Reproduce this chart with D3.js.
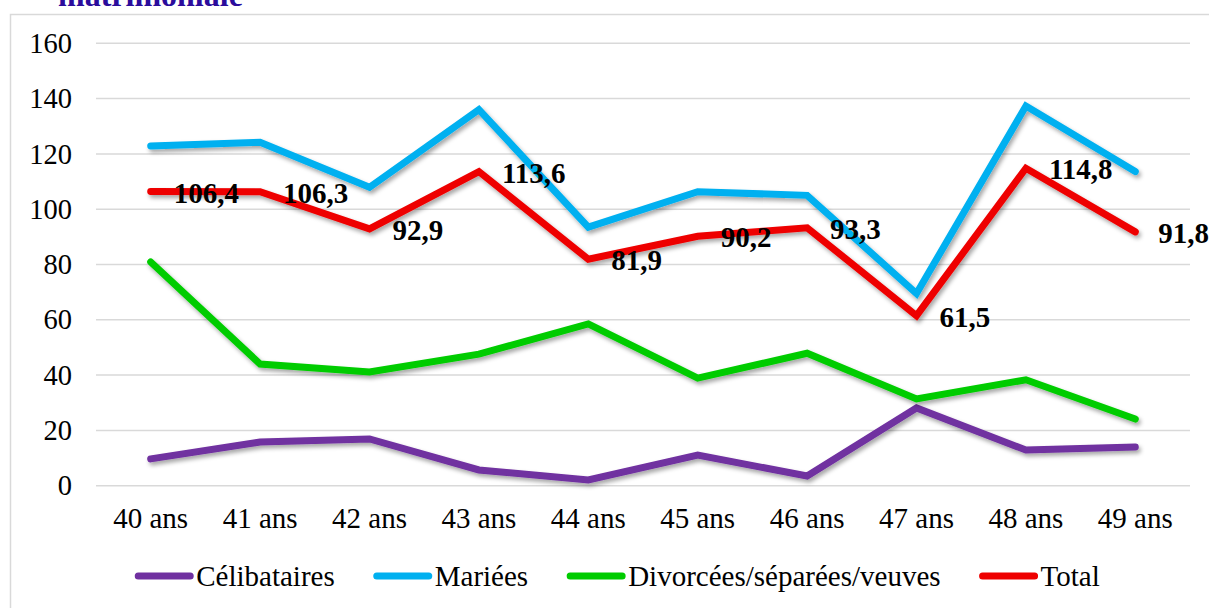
<!DOCTYPE html>
<html>
<head>
<meta charset="utf-8">
<script src="https://cdn.jsdelivr.net/npm/d3@7"></script>
<style>
  body { margin: 0; background: #fff; }
  svg text { font-family: "Liberation Serif", "Tinos", "Times New Roman", "DejaVu Serif", serif; }
</style>
</head>
<body>
<script>
var categories = ["40 ans", "41 ans", "42 ans", "43 ans", "44 ans", "45 ans", "46 ans", "47 ans", "48 ans", "49 ans"];
var celibataires = [9.7, 15.8, 16.9, 5.7, 2.1, 11.1, 3.5, 28.1, 12.9, 14.0];
var mariees = [122.9, 124.2, 107.9, 136.0, 93.5, 106.3, 105.0, 69.5, 137.3, 113.6];
var divorcees = [80.9, 44.0, 41.1, 47.6, 58.5, 38.9, 47.9, 31.4, 38.3, 24.1];
var total = [106.4, 106.3, 92.9, 113.6, 81.9, 90.2, 93.3, 61.5, 114.8, 91.8];
var yTicks = [0, 20, 40, 60, 80, 100, 120, 140, 160];
var seriesNames = ["Célibataires", "Mariées", "Divorcées/séparées/veuves", "Total"];
var seriesColors = ["#7030A0", "#00B0F0", "#00CC00", "#EE0000"];

var width = 1209,
    height = 608;

var svg = d3.select("body").append("svg")
    .attr("width", width)
    .attr("height", height);

var defs = svg.append("defs");
var shadow = defs.append("filter").attr("id", "shadow")
    .attr("x", "-10%").attr("y", "-10%").attr("width", "120%").attr("height", "130%");
shadow.append("feDropShadow")
    .attr("dx", 2).attr("dy", 3).attr("stdDeviation", 2)
    .attr("flood-color", "#000").attr("flood-opacity", 0.35);

// title fragment cut off at top (as in the source)
svg.append("text")
    .attr("x", 58).attr("y", 6)
    .attr("font-size", 32).attr("font-weight", "bold")
    .attr("fill", "#2B0C9C")
    .text("matrimoniale");

// chart border
svg.append("rect")
    .attr("x", 10.5).attr("y", 14.5)
    .attr("width", 1220).attr("height", 620)
    .attr("fill", "none").attr("stroke", "#d9d9d9").attr("stroke-width", 1.5);

var x = d3.scaleBand().domain(categories).range([96, 1190]);
var y = d3.scaleLinear().domain([0, 160]).range([485.7, 43.3]);

function cx(d) { return x(d) + x.bandwidth() / 2; }

// grid
svg.append("g").selectAll("line")
    .data(yTicks)
  .enter().append("line")
    .attr("x1", 96).attr("x2", 1190)
    .attr("y1", function(d) { return y(d); })
    .attr("y2", function(d) { return y(d); })
    .attr("stroke", "#d9d9d9").attr("stroke-width", 1.5);

// y axis labels
var yAxis = svg.append("g")
    .attr("transform", "translate(72,0)")
    .call(d3.axisLeft(y).tickValues(yTicks).tickSize(0).tickPadding(0));
yAxis.select(".domain").remove();
yAxis.attr("font-family", null);
yAxis.selectAll("text")
    .attr("font-size", 28.5)
    .attr("fill", "#000");

// x axis labels
var xAxis = svg.append("g")
    .attr("transform", "translate(0,507)")
    .call(d3.axisBottom(x).tickSize(0).tickPadding(0));
xAxis.select(".domain").remove();
xAxis.attr("font-family", null);
xAxis.selectAll("text")
    .attr("font-size", 29)
    .attr("fill", "#000");

var allSeries = [celibataires, mariees, divorcees, total];

var line = d3.line()
    .x(function(d, i) { return cx(categories[i]); })
    .y(function(d) { return y(d); });

svg.append("g").selectAll("path")
    .data(allSeries)
  .enter().append("path")
    .attr("d", line)
    .attr("fill", "none")
    .attr("stroke", function(d, i) { return seriesColors[i]; })
    .attr("stroke-width", 7)
    .attr("stroke-linecap", "round")
    .attr("stroke-linejoin", "miter")
    .attr("filter", "url(#shadow)");

// data labels for Total
svg.append("g").selectAll("text")
    .data(total)
  .enter().append("text")
    .attr("x", function(d, i) { return cx(categories[i]) + 23; })
    .attr("y", function(d) { return y(d) + 1; })
    .attr("dy", "0.35em")
    .attr("font-size", 29)
    .attr("font-weight", "bold")
    .attr("fill", "#000")
    .text(function(d) { return d3.format(".1f")(d).replace(".", ","); });

// legend
var legend = svg.append("g");
var items = legend.selectAll("g")
    .data(seriesNames)
  .enter().append("g");

items.append("line")
    .attr("x1", 0).attr("x2", 52)
    .attr("y1", 0).attr("y2", 0)
    .attr("stroke", function(d, i) { return seriesColors[i]; })
    .attr("stroke-width", 7)
    .attr("stroke-linecap", "round");

items.append("text")
    .attr("x", 58).attr("dy", "0.35em")
    .attr("font-size", 29)
    .attr("fill", "#000")
    .text(function(d) { return d; });

var offset = 0, positions = [];
items.each(function(d, i) {
  var w = 58 + d3.select(this).select("text").node().getComputedTextLength();
  positions.push(offset);
  offset += w + 42;
});
var legendWidth = offset - 42;
var startX = 619 - legendWidth / 2;
items.attr("transform", function(d, i) { return "translate(" + (startX + positions[i]) + ",576)"; });
</script>
</body>
</html>
